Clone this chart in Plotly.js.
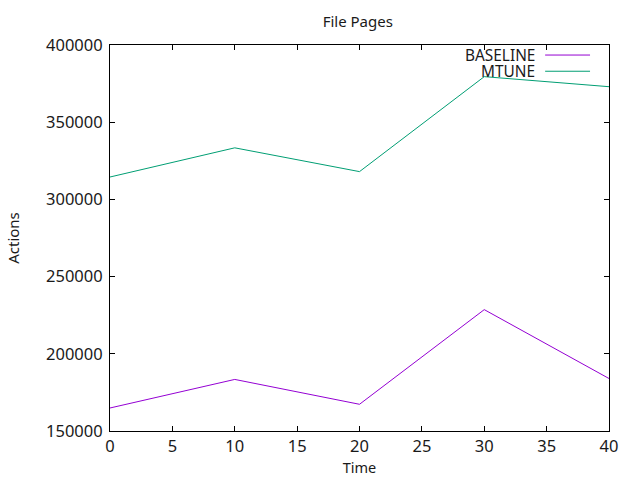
<!DOCTYPE html>
<html>
<head>
<meta charset="utf-8">
<script src="https://cdn.plot.ly/plotly-3.0.1.min.js"></script>
<style>html,body{margin:0;padding:0;background:#fff;}#chart{width:640px;height:480px;}</style>
</head>
<body>
<div id="chart"></div>
<script>
const times = [0, 10, 20, 30, 40];
const baseline = [164900, 183400, 167300, 228600, 184000];
const mtune = [314500, 333400, 318000, 379500, 373000];
const seriesNames = ["BASELINE", "MTUNE"];
const seriesColors = ["#9400d3", "#009e73"];
const xTicks = [0, 5, 10, 15, 20, 25, 30, 35, 40];
const yTicks = [150000, 200000, 250000, 300000, 350000, 400000];

const font = "Noto Sans, Open Sans, sans-serif";
const txtColor = "#1a1a1a";
const traces = [baseline, mtune].map((vals, i) => ({
  x: times, y: vals, type: "scatter", mode: "lines",
  name: seriesNames[i], line: {color: seriesColors[i], width: 1},
  showlegend: false
}));

const legY = [0.974, 0.932];
const annotations = seriesNames.map((n, i) => ({
  xref: "paper", yref: "paper", x: 0.854, y: legY[i], text: n,
  showarrow: false, xanchor: "right", yanchor: "middle",
  height: 15, borderpad: 0, valign: "middle",
  font: {family: font, size: 15.4, color: txtColor}
}));
const shapes = seriesNames.map((n, i) => ({
  type: "line", xref: "paper", yref: "paper", x0: 0.872, x1: 0.962, y0: legY[i], y1: legY[i],
  line: {color: seriesColors[i], width: 1}
}));

const axisCommon = {
  showgrid: false, zeroline: false, showline: true, linecolor: "#000", linewidth: 1,
  mirror: "allticks", ticks: "inside", ticklen: 5, tickcolor: "#000", tickwidth: 1,
  tickfont: {family: font, size: 16.5, color: txtColor}
};

const layout = {
  width: 640, height: 480,
  margin: {l: 110, r: 31, t: 45, b: 49},
  paper_bgcolor: "#fff", plot_bgcolor: "#fff",
  title: {text: "File Pages", x: 0.559, xanchor: "center", y: 0.955, yanchor: "middle",
    font: {family: font, size: 15, color: txtColor}},
  xaxis: Object.assign({}, axisCommon, {
    range: [0, 40], tickvals: xTicks, ticktext: xTicks.map(String),
    title: {text: "Time", standoff: 6, font: {family: font, size: 14.5, color: txtColor}}
  }),
  yaxis: Object.assign({}, axisCommon, {
    range: [150000, 400000], tickvals: yTicks, ticktext: yTicks.map(String),
    ticklabelstandoff: 3,
    title: {text: "Actions", standoff: 22, font: {family: font, size: 15, color: txtColor}}
  }),
  annotations: annotations,
  shapes: shapes
};

Plotly.newPlot("chart", traces, layout, {displayModeBar: false, staticPlot: true});
</script>
</body>
</html>
